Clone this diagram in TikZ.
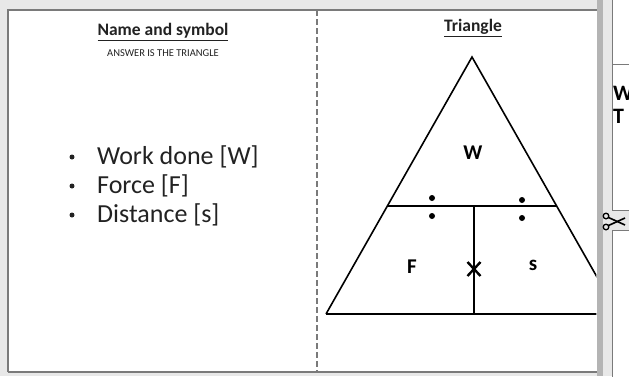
\documentclass[tikz,border=0pt]{standalone}
\usepackage{fontspec}
\setmainfont{Carlito}
\usetikzlibrary{calc}
\definecolor{bggray}{HTML}{E8E8E8}
\definecolor{stripgray}{HTML}{B4B4B4}
\definecolor{bordergray}{HTML}{7A7A7A}
\definecolor{textdark}{HTML}{222222}
\begin{document}
\begin{tikzpicture}[x=1pt,y=-1pt,
  cardline/.style={draw=bordergray, line width=1.4pt},
  triline/.style={draw=black, line width=1.6pt},
  cutline/.style={draw=bordergray, line width=1.2pt, dash pattern=on 6pt off 3pt},
  heading/.style={font=\fontsize{17.5}{20}\selectfont\bfseries, text=textdark, inner sep=0pt},
  bullettext/.style={font=\fontsize{26}{30}\selectfont, text=textdark, anchor=west, inner sep=0pt},
  bulletdot/.style={fill=textdark, circle, inner sep=0pt, minimum size=5pt},
  trilabel/.style={font=\fontsize{21}{24}\selectfont\bfseries, text=black, inner sep=0pt},
  dotmark/.style={fill=black, circle, inner sep=0pt, minimum size=6pt},
  sidepanel/.style={fill=white, draw=bordergray, line width=1pt},
  sidetext/.style={font=\fontsize{22}{24}\selectfont\bfseries, anchor=west, inner sep=0pt}]
\useasboundingbox (0,0) rectangle (629,376);
\fill[bggray] (0,0) rectangle (629,376);
% side strip and neighbouring panels
\fill[stripgray] (597,0) rectangle (603,376);
\filldraw[sidepanel] (612,-5) rectangle (640,210);
\draw[draw=bordergray, line width=1pt] (612,64) -- (640,64);
\filldraw[sidepanel] (612,230) rectangle (640,380);
\begin{scope}
\clip (612,0) rectangle (629,376);
\node[sidetext] (pw) at (613,93) {W};
\node[sidetext] (pt) at (613,116) {T};
\end{scope}
% scissors
\coordinate (scA) at (606,216);
\coordinate (scB) at (606,227);
\draw[line width=1.3pt] (scA) circle (2.8pt);
\draw[line width=1.3pt] (scB) circle (2.8pt);
\draw[line width=1.6pt] (608.5,217.5) -- (625,225);
\draw[line width=1.6pt] (608.5,225.5) -- (625,218);
% card
\fill[white] (8,10) rectangle (597,372);
\draw[cardline] (8,372) -- (8,10) -- (597,10);
\draw[cardline] (8,372) -- (597,372);
\draw[cutline] (317,10) -- (317,372);
% left half
\node[heading] (title) at (163,32) {\underline{Name and symbol}};
\node[font=\fontsize{10.5}{12}\selectfont, text=textdark, inner sep=0pt] (sub) at (163,53) {ANSWER IS THE TRIANGLE};
\node[bulletdot] (b1) at (72,157) {};
\node[bullettext] (t1) at (97,157) {Work done [W]};
\node[bulletdot] (b2) at (72,186) {};
\node[bullettext] (t2) at (97,186) {Force [F]};
\node[bulletdot] (b3) at (72,215) {};
\node[bullettext] (t3) at (97,215) {Distance [s]};
% right half
\node[heading] (tri) at (473,28) {\underline{Triangle}};
\begin{scope}
\clip (318,10) rectangle (596.3,372);
\coordinate (apex) at (472,57);
\coordinate (bl) at (326,314);
\coordinate (br) at (618,314);
\coordinate (ml) at (388,206);
\coordinate (mr) at (556,206);
\coordinate (mt) at (474,206);
\coordinate (mb) at (474,314);
\draw[triline, line join=miter] (bl) -- (apex) -- (br);
\draw[triline] (bl) -- (br);
\draw[triline] (ml) -- (mr);
\draw[triline] (mt) -- (mb);
\end{scope}
\node[trilabel] (W) at (473,153) {W};
\node[trilabel] (F) at (412,267) {F};
\node[trilabel] (s) at (533,265) {s};
\node[dotmark] (d1) at (432,198) {};
\node[dotmark] (d2) at (432,216) {};
\node[dotmark] (d3) at (522,200) {};
\node[dotmark] (d4) at (522,218) {};
\coordinate (x0) at (474,269);
\draw[line width=2.4pt] ($(x0)+(-6.5,-7)$) -- ($(x0)+(6.5,7)$);
\draw[line width=2.4pt] ($(x0)+(-6.5,7)$) -- ($(x0)+(6.5,-7)$);
\end{tikzpicture}
\end{document}
